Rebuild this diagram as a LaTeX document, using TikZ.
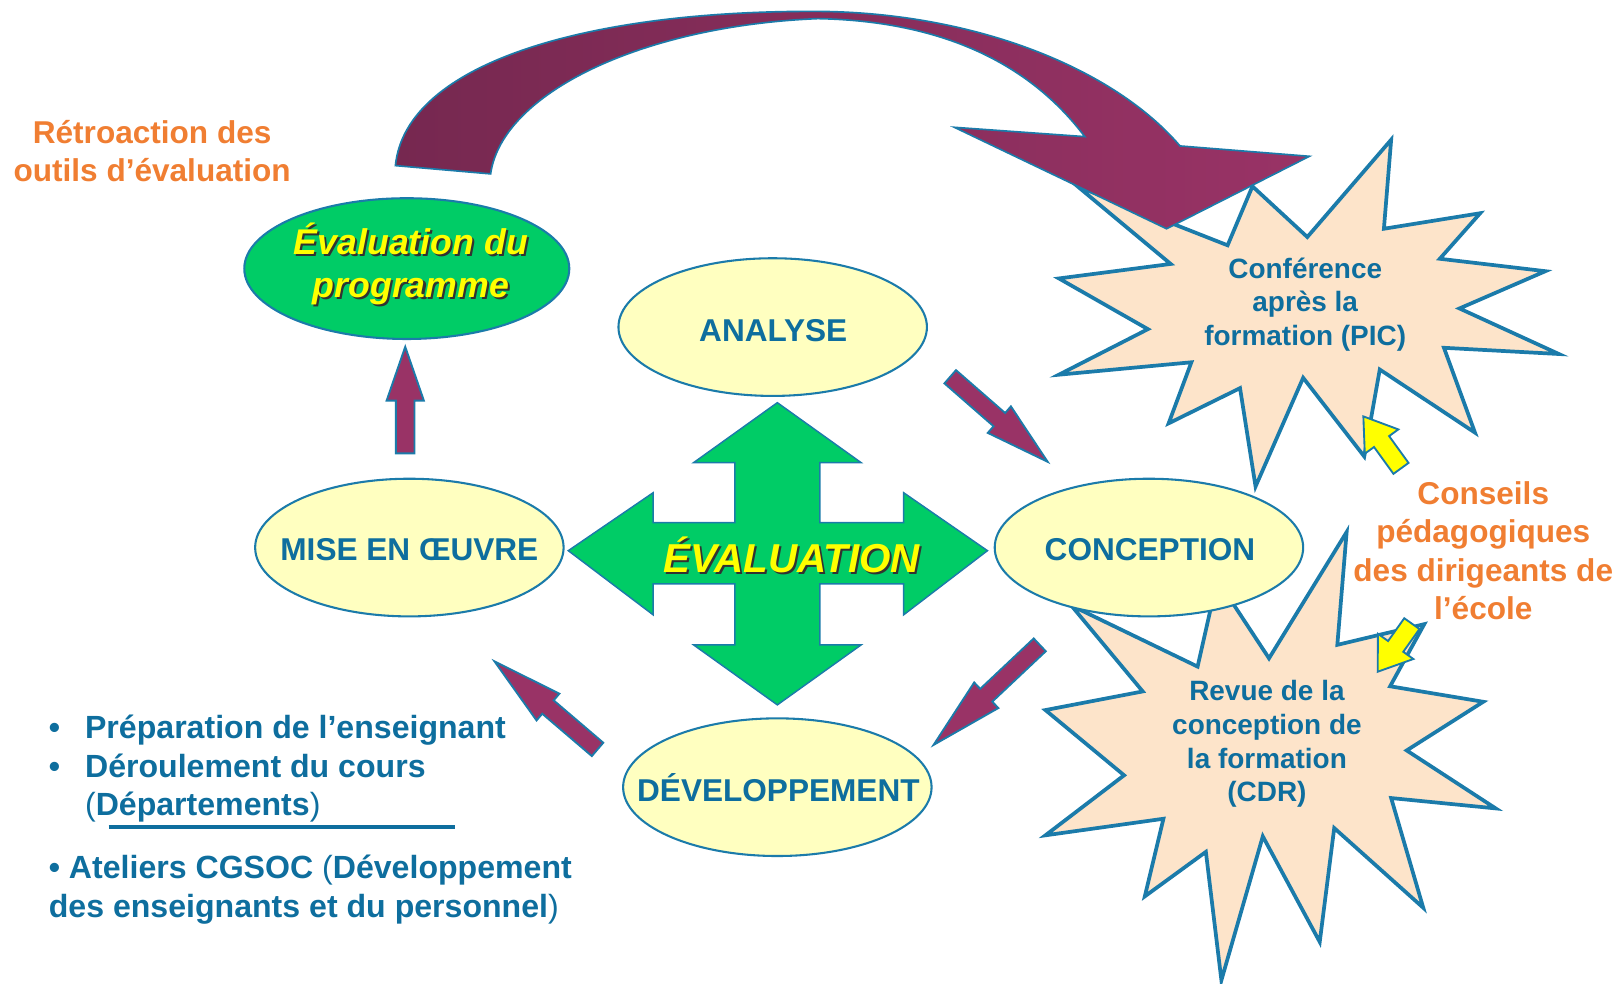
\documentclass[tikz,border=0pt]{standalone}
\usepackage{fontspec}
\setmainfont{Liberation Sans}
\usetikzlibrary{shapes.geometric}
\definecolor{lineblue}{RGB}{27,123,170}
\definecolor{txtblue}{RGB}{14,110,158}
\definecolor{maroonfill}{RGB}{153,51,102}
\definecolor{maroondark}{RGB}{118,40,80}
\definecolor{evgreen}{RGB}{0,204,102}
\definecolor{paleyellow}{RGB}{255,255,192}
\definecolor{peach}{RGB}{253,228,202}
\definecolor{orangetxt}{RGB}{240,126,50}
\definecolor{shadowgray}{RGB}{50,50,50}
\definecolor{brightyellow}{RGB}{255,255,0}

\newcommand\blkarrow[8]{% fill, x, y, angle, length, head length, shaft width, head width
  \begin{scope}[shift={(#2,#3)},rotate=#4]
    \path[blockline,fill=#1] (0,{-(#7)/2}) -- ({#5-#6},{-(#7)/2}) -- ({#5-#6},{-(#8)/2}) -- (#5,0)
      -- ({#5-#6},{(#8)/2}) -- ({#5-#6},{(#7)/2}) -- (0,{(#7)/2}) -- cycle;
  \end{scope}}

\tikzset{
  blockline/.style={draw=lineblue, line width=1.8pt, line join=miter},
  stage/.style={ellipse, draw=lineblue, line width=2pt, fill=paleyellow,
    minimum width=298pt, minimum height=133pt, inner sep=0pt},
  stagetext/.style={text=txtblue, inner sep=0pt, font=\fontsize{30.5}{36}\selectfont\bfseries},
  burst/.style={draw=lineblue, line width=3.6pt, fill=peach, line join=miter},
  bursttext/.style={text=txtblue, font=\fontsize{27}{32.5}\selectfont\bfseries, align=center},
  note/.style={text=orangetxt, font=\fontsize{30.5}{37}\selectfont\bfseries, align=center},
  listtext/.style={text=txtblue, font=\fontsize{31}{38}\selectfont\bfseries, anchor=base west, inner sep=0pt},
  glowtext/.style={text=brightyellow, align=center, font=\fontsize{34.5}{41}\selectfont\bfseries\itshape},
  glowshadow/.style={text=shadowgray, align=center, font=\fontsize{34.5}{41}\selectfont\bfseries\itshape},
}

\begin{document}
\begin{tikzpicture}[x=1pt,y=-1pt]
\useasboundingbox (0,0) rectangle (1568,950);

% starburst 1 (PIC)
\path[burst] (1344,135) -- (1337,221) -- (1430,206) -- (1391,250) -- (1493,262) -- (1410,298)
  -- (1506,342) -- (1395,336) -- (1425,418) -- (1333,357) -- (1318,441) -- (1259,365)
  -- (1213,470) -- (1198,375) -- (1129,409) -- (1151,350) -- (1023,362) -- (1109,318)
  -- (1023,269) -- (1131,255) -- (1041,180) -- (1186,237) -- (1210,180) -- (1263,229) -- cycle;

% starburst 2 (CDR)
\path[burst] (1301,514) -- (1292,623) -- (1376,603) -- (1343,663) -- (1433,678) -- (1359,725)
  -- (1445,781) -- (1344,771) -- (1375,877) -- (1289,800) -- (1275,910) -- (1220,808)
  -- (1180,947) -- (1165,823) -- (1106,866) -- (1124,791) -- (1010,807) -- (1086,749)
  -- (1010,686) -- (1104,668) -- (1035,585) -- (1157,644) -- (1176,560) -- (1226,636) -- cycle;

% big curved arrow
\path[draw=lineblue, line width=1.6pt, line join=miter, left color=maroondark, right color=maroonfill]
  (382,160) .. controls (392,60) and (570,10) .. (790,11)
  .. controls (940,12) and (1075,65) .. (1140,141)
  -- (1265,151) -- (1127,221) -- (922,123) -- (1048,132)
  .. controls (990,55) and (900,20) .. (790,18)
  .. controls (620,25) and (485,90) .. (474,168) -- cycle;

% stage ellipses
\node[stage] (analyse) at (746.5,316) {};
\node[stagetext] (analysetext) at (747,319) {ANALYSE};
\node[stage] (conception) at (1110,529) {};
\node[stagetext] (conceptiontext) at (1111,531) {CONCEPTION};
\node[stage] (mise) at (395.5,529) {};
\node[stagetext] (misetext) at (395.5,531) {MISE EN ŒUVRE};
\node[stage] (devel) at (751,760.5) {};
\node[stagetext] (develtext) at (752,761) {DÉVELOPPEMENT};
\node[ellipse, draw=lineblue, line width=2pt, fill=evgreen, minimum width=314pt,
  minimum height=136pt, inner sep=0pt] (eval) at (393,259.5) {};
\node[glowshadow] (evalshadow) at (399,257) {Évaluation du\\programme};
\node[glowtext] (evaltext) at (397,255) {Évaluation du\\programme};

% green four-way arrow
\path[draw=lineblue, line width=1.4pt, line join=miter, fill=evgreen]
  (751,389) -- (832,447) -- (792,447) -- (792,505) -- (873,505) -- (873,476) -- (954,532)
  -- (873,594) -- (873,564) -- (792,564) -- (792,623) -- (832,623) -- (751,681)
  -- (670,623) -- (710,623) -- (710,564) -- (631,564) -- (631,594) -- (549,532)
  -- (631,476) -- (631,505) -- (710,505) -- (710,447) -- (670,447) -- cycle;
\node[glowshadow, font=\fontsize{39}{41}\selectfont\bfseries\itshape] (crossshadow) at (767,538) {ÉVALUATION};
\node[glowtext, font=\fontsize{39}{41}\selectfont\bfseries\itshape] (crosstext) at (765,536) {ÉVALUATION};

% maroon block arrows
\blkarrow{maroonfill}{391.5}{438}{90}{103}{52}{18}{36}
\blkarrow{maroonfill}{918}{364}{-41.1}{125}{62}{17}{34}
\blkarrow{maroonfill}{1004.5}{623}{-136.7}{141}{70}{17}{34}
\blkarrow{maroonfill}{577.3}{724}{139.5}{131}{68}{17}{34}

% yellow pointers
\blkarrow{brightyellow}{1353.5}{452.5}{125.9}{62}{30}{18}{40}
\blkarrow{brightyellow}{1364}{602.5}{-125.4}{57}{30}{18}{42}

% burst texts
\node[bursttext] (pic) at (1261,294) {Conférence\\après la\\formation (PIC)};
\node[bursttext] (cdr) at (1224,719) {Revue de la\\conception de\\la formation\\(CDR)};

% orange notes
\node[note] (retro) at (147,146) {Rétroaction des\\outils d’évaluation};
\node[note] (conseils) at (1433,532) {Conseils\\pédagogiques\\des dirigeants de\\l’école};

% bulleted list
\node[listtext] (dot1) at (47,713) {•};
\node[listtext] (item1) at (82,713) {Préparation de l’enseignant};
\node[listtext] (dot2) at (47,751) {•};
\node[listtext] (item2) at (82,751) {Déroulement du cours};
\node[listtext] (item2b) at (82,788) {{\mdseries(}Départements{\mdseries)}};
\coordinate (ulA) at (105,799);
\coordinate (ulB) at (440,799);
\draw[txtblue, line width=3pt] (ulA) -- (ulB);
\node[listtext] (item3) at (47,849) {• Ateliers CGSOC {\mdseries(}Développement};
\node[listtext] (item3b) at (47,886) {des enseignants et du personnel{\mdseries)}};
\end{tikzpicture}
\end{document}
